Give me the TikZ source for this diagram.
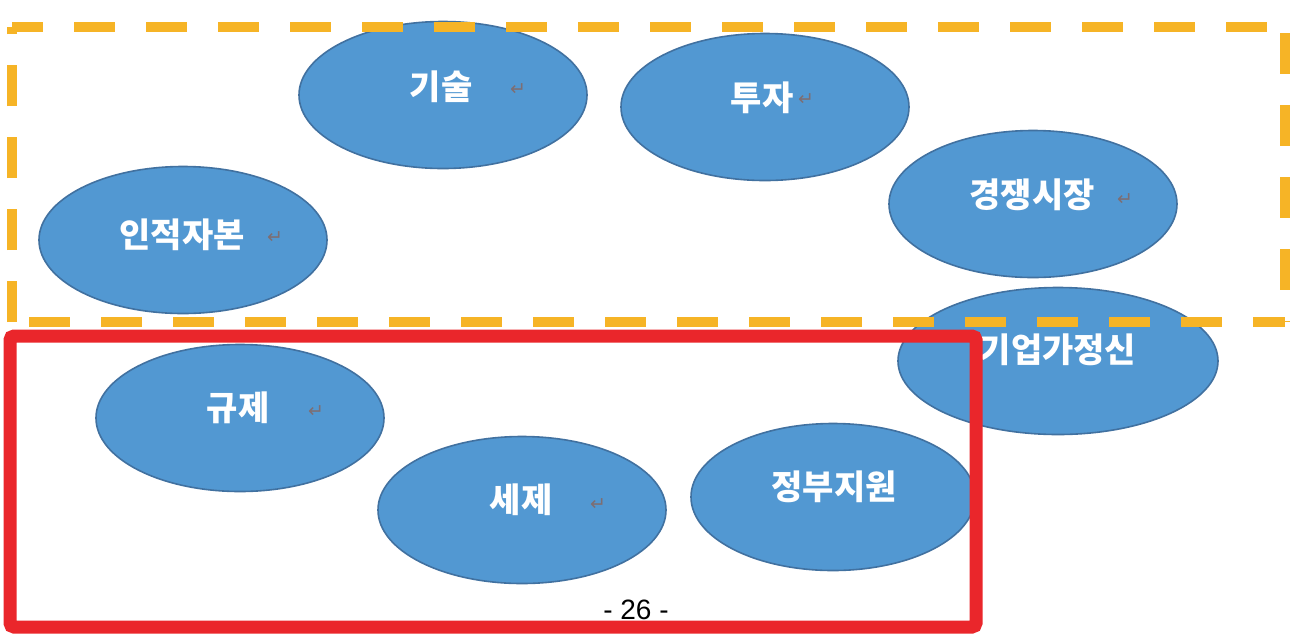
\documentclass[tikz,border=0pt]{standalone}
\usepackage{fontspec}
\setmainfont{Liberation Sans}
\newfontfamily\kr{Noto Sans CJK KR}
\newfontfamily\djv{DejaVu Sans}
\usetikzlibrary{shapes.geometric}
\definecolor{ellfill}{RGB}{82,152,210}
\definecolor{elldraw}{RGB}{65,113,160}
\definecolor{orng}{RGB}{246,180,38}
\definecolor{redb}{RGB}{234,38,43}
\definecolor{retgray}{RGB}{125,110,115}
\begin{document}
\begin{tikzpicture}[x=0.5pt,y=-0.5pt,
  oval/.style={ellipse, fill=ellfill, draw=elldraw, line width=0.8pt, inner sep=0pt,
               minimum width=144pt, minimum height=73.5pt},
  lbl/.style={text=white, inner sep=0pt, font=\kr\bfseries\fontsize{17}{17}\selectfont},
  ret/.style={text=retgray, inner sep=0pt, font=\djv\fontsize{9.5}{9.5}\selectfont},
  orngdash/.style={draw=orng, line width=5pt, dash pattern=on 20.5pt off 15.5pt},
  redbox/.style={draw=redb, line width=6.5pt, rounded corners=2pt},
  pagenum/.style={inner sep=0pt, font=\fontsize{14}{14}\selectfont}]
\useasboundingbox (0,0) rectangle (1292,634);
\fill[white] (0,0) rectangle (1292,634);
% ellipses
\node[oval] (e1) at (443,95) {};
\node[oval] (e2) at (765,107) {};
\node[oval] (e3) at (1033,204) {};
\node[oval] (e4) at (183,240) {};
\node[oval, minimum width=160pt] (e5) at (1058,361) {};
\node[oval] (e6) at (240,418) {};
\node[oval] (e7) at (522,510) {};
\node[oval, minimum width=142pt] (e8) at (833,497) {};
% labels
\node[lbl] (t1) at (441,87) {기술};
\node[ret] (r1) at (518,90) {↵};
\node[lbl] (t2) at (762,98) {투자};
\node[ret] (r2) at (806,100) {↵};
\node[lbl] (t3) at (1032,195) {경쟁시장};
\node[ret] (r3) at (1125,200) {↵};
\node[lbl] (t4) at (182,235) {인적자본};
\node[ret] (r4) at (275,238) {↵};
\node[lbl] (t5) at (1058,350) {기업가정신};
\node[lbl] (t6) at (238,408) {규제};
\node[ret] (r6) at (316,412) {↵};
\node[lbl] (t7) at (521,500) {세제};
\node[ret] (r7) at (598,505) {↵};
\node[lbl] (t8) at (834,487) {정부지원};
% orange dashed frame
\coordinate (o1) at (12,27);
\coordinate (o2) at (1285,27);
\coordinate (o3) at (1285,322);
\coordinate (o4) at (12,322);
\draw[orngdash, dash phase=5pt] (o1) -- (o2);
\draw[orngdash, dash phase=33pt] (o2) -- (o3);
\draw[orngdash, dash phase=27.5pt] (o4) -- (o3);
\draw[orngdash] (o4) -- (o1);
% red frame
\coordinate (p1) at (10,336);
\coordinate (p2) at (976,627);
\draw[redbox] (p1) rectangle (p2);
\node[pagenum] (pn) at (636,610) {- 26 -};
\end{tikzpicture}
\end{document}
